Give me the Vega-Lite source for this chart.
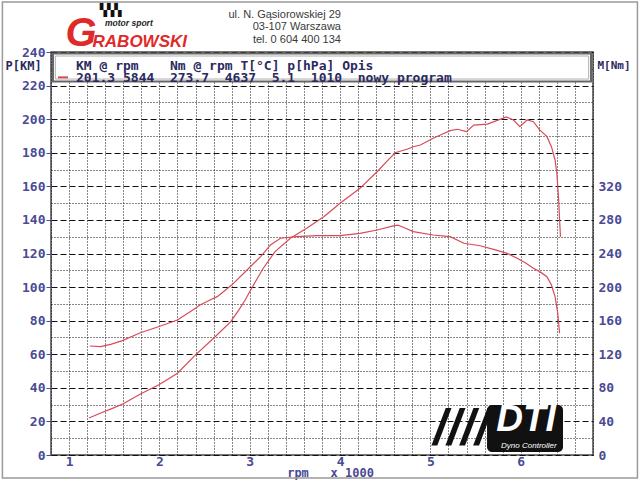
{
  "$schema": "https://vega.github.io/schema/vega-lite/v6.json",
  "width": 542,
  "height": 403,
  "autosize": {"type": "none"},
  "padding": {"left": 51, "top": 52, "right": 47, "bottom": 26},
  "background": "white",
  "config": {"view": {"stroke": "#4a4a4a", "strokeWidth": 1.5}, "font": "DejaVu Sans Mono"},
  "datasets": {
    "power": [{"rpm":1.22,"km":22},{"rpm":1.35,"km":25},{"rpm":1.48,"km":27.8},{"rpm":1.6,"km":30.5},{"rpm":1.79,"km":36.3},{"rpm":1.99,"km":41.7},{"rpm":2.2,"km":48.7},{"rpm":2.4,"km":59.6},{"rpm":2.6,"km":69.5},{"rpm":2.79,"km":79.4},{"rpm":2.88,"km":86.4},{"rpm":2.95,"km":92.3},{"rpm":3.01,"km":98.3},{"rpm":3.15,"km":111.2},{"rpm":3.28,"km":121.1},{"rpm":3.45,"km":129.1},{"rpm":3.63,"km":135},{"rpm":3.82,"km":141.9},{"rpm":4.0,"km":149.9},{"rpm":4.22,"km":158.8},{"rpm":4.41,"km":168.7},{"rpm":4.52,"km":175},{"rpm":4.61,"km":180},{"rpm":4.74,"km":182.1},{"rpm":4.81,"km":183.6},{"rpm":4.89,"km":184.6},{"rpm":5.03,"km":188.6},{"rpm":5.13,"km":191},{"rpm":5.22,"km":193.2},{"rpm":5.3,"km":194},{"rpm":5.4,"km":192.6},{"rpm":5.48,"km":196.5},{"rpm":5.63,"km":197.1},{"rpm":5.77,"km":199.9},{"rpm":5.84,"km":201.3},{"rpm":5.92,"km":199.5},{"rpm":5.99,"km":195.5},{"rpm":6.07,"km":199.5},{"rpm":6.14,"km":198.5},{"rpm":6.21,"km":193.6},{"rpm":6.29,"km":189.6},{"rpm":6.34,"km":183.6},{"rpm":6.38,"km":175.7},{"rpm":6.4,"km":167.8},{"rpm":6.42,"km":151.9},{"rpm":6.43,"km":140},{"rpm":6.44,"km":130}],
    "torque": [{"rpm":1.23,"nm":129.8},{"rpm":1.35,"nm":129},{"rpm":1.47,"nm":132},{"rpm":1.59,"nm":136.2},{"rpm":1.79,"nm":145.6},{"rpm":1.99,"nm":152.8},{"rpm":2.2,"nm":160.8},{"rpm":2.4,"nm":174.8},{"rpm":2.45,"nm":178.6},{"rpm":2.56,"nm":184.6},{"rpm":2.64,"nm":188.6},{"rpm":2.8,"nm":202.4},{"rpm":2.97,"nm":220.4},{"rpm":3.12,"nm":236.2},{"rpm":3.23,"nm":250.2},{"rpm":3.34,"nm":258.2},{"rpm":3.52,"nm":260},{"rpm":3.74,"nm":261.2},{"rpm":4.0,"nm":261.2},{"rpm":4.22,"nm":264},{"rpm":4.41,"nm":268},{"rpm":4.59,"nm":272.8},{"rpm":4.64,"nm":273.7},{"rpm":4.7,"nm":271.2},{"rpm":4.81,"nm":266},{"rpm":5.03,"nm":262},{"rpm":5.22,"nm":260},{"rpm":5.37,"nm":252.2},{"rpm":5.55,"nm":249.2},{"rpm":5.7,"nm":245},{"rpm":5.85,"nm":240.2},{"rpm":5.96,"nm":234.4},{"rpm":6.05,"nm":229},{"rpm":6.14,"nm":222.4},{"rpm":6.21,"nm":218.4},{"rpm":6.29,"nm":212.4},{"rpm":6.34,"nm":202.4},{"rpm":6.38,"nm":188.6},{"rpm":6.41,"nm":168.8},{"rpm":6.43,"nm":145}]
  },
  "layer": [
    {
      "layer": [
        {
          "data": {"name": "power"},
          "mark": {"type": "line", "color": "#d84a58", "strokeWidth": 1.2},
          "encoding": {
            "x": {
              "field": "rpm", "type": "quantitative",
              "scale": {"domain": [0.8, 6.8], "nice": false, "zero": false},
              "axis": {
                "values": [0.8,1,1.2,1.4,1.6,1.8,2,2.2,2.4,2.6,2.8,3,3.2,3.4,3.6,3.8,4,4.2,4.4,4.6,4.8,5,5.2,5.4,5.6,5.8,6,6.2,6.4,6.6,6.8],
                "tickCount": 100,
                "labelExpr": "abs(datum.value - round(datum.value)) < 0.001 ? format(datum.value, 'd') : ''",
                "labelOverlap": false, "labelFlush": false,
                "grid": true, "gridColor": "#111111", "gridDash": [1, 2], "gridWidth": 1,
                "ticks": false, "tickSize": 0, "domain": false,
                "labelFont": "DejaVu Sans Mono", "labelFontWeight": "bold", "labelFontSize": 13, "labelColor": "#4a4a95", "labelPadding": 0,
                "title": "rpm\u00a0\u00a0\u00a0x\u00a01000", "titleX": 279, "titleY": 17, "titleAlign": "center", "titleBaseline": "middle",
                "titleFont": "DejaVu Sans Mono", "titleFontWeight": "bold", "titleFontSize": 12, "titleColor": "#4a4a95"
              }
            },
            "y": {
              "field": "km", "type": "quantitative",
              "scale": {"domain": [0, 240], "nice": false, "zero": false},
              "axis": {
                "values": [0,10,20,30,40,50,60,70,80,90,100,110,120,130,140,150,160,170,180,190,200,210,220,230,240],
                "tickCount": 100,
                "labelExpr": "datum.value % 20 === 0 ? format(datum.value, 'd') : ''",
                "labelOverlap": false, "labelFlush": false,
                "grid": true, "gridColor": "#111111", "gridWidth": 1,
                "gridDash": {"condition": {"test": "datum.value % 20 === 0", "value": [6, 3]}, "value": [1, 2]},
                "ticks": true, "tickSize": 5, "tickColor": "#4a4a95",
                "tickOpacity": {"condition": {"test": "datum.value % 20 === 0", "value": 1}, "value": 0},
                "domain": false,
                "labelFont": "DejaVu Sans Mono", "labelFontWeight": "bold", "labelFontSize": 13, "labelColor": "#4a4a95", "labelPadding": 1,
                "title": "P[KM]", "titleAngle": 0, "titleX": -46, "titleY": 13, "titleAlign": "left", "titleBaseline": "middle",
                "titleFont": "DejaVu Sans Mono", "titleFontWeight": "bold", "titleFontSize": 12, "titleColor": "#2a2a60"
              }
            }
          }
        },
        {
          "data": {"values": [{}]},
          "mark": {"type": "rect", "fill": "white", "stroke": "#666666", "strokeWidth": 2},
          "encoding": {
            "x": {"datum": 0.822, "type": "quantitative"},
            "x2": {"datum": 6.778},
            "y": {"datum": 239.1, "type": "quantitative"},
            "y2": {"datum": 222.4}
          }
        },
        {
          "data": {"values": [{}]},
          "mark": {"type": "rect", "fill": "white", "stroke": "#b0b0b0", "strokeWidth": 1},
          "encoding": {
            "x": {"datum": 0.848, "type": "quantitative"},
            "x2": {"datum": 6.752},
            "y": {"datum": 237.6, "type": "quantitative"},
            "y2": {"datum": 223.9}
          }
        },
        {
          "data": {"values": [{}]},
          "mark": {"type": "rule", "color": "#d84a58", "strokeWidth": 2},
          "encoding": {
            "x": {"datum": 0.877, "type": "quantitative"},
            "x2": {"datum": 0.988},
            "y": {"datum": 224.9, "type": "quantitative"}
          }
        },
        {
          "data": {"values": [{}]},
          "mark": {"type": "text", "align": "left", "baseline": "middle", "font": "DejaVu Sans Mono", "fontWeight": "bold", "fontSize": 13, "color": "#2a2a60",
            "text": "\u00a0\u00a0KM\u00a0@\u00a0rpm\u00a0\u00a0\u00a0\u00a0Nm\u00a0@\u00a0rpm\u00a0T[°C]\u00a0p[hPa]\u00a0Opis"},
          "encoding": {
            "x": {"datum": 1.077, "type": "quantitative"},
            "y": {"datum": 231.8, "type": "quantitative"}
          }
        },
        {
          "data": {"values": [{}]},
          "mark": {"type": "text", "align": "left", "baseline": "middle", "font": "DejaVu Sans Mono", "fontWeight": "bold", "fontSize": 13, "color": "#2a2a60",
            "text": "201.3\u00a05844\u00a0\u00a0273.7\u00a0\u00a04637\u00a0\u00a05.1\u00a0\u00a01010\u00a0\u00a0nowy\u00a0program"},
          "encoding": {
            "x": {"datum": 1.077, "type": "quantitative"},
            "y": {"datum": 224.8, "type": "quantitative"}
          }
        },
        {
          "data": {"values": [{}]},
          "mark": {"type": "text", "align": "right", "baseline": "middle", "font": "Liberation Sans", "fontSize": 11, "color": "#3a3a3a", "lineHeight": 12.3,
            "text": ["ul. N. Gąsiorowskiej 29", "03-107 Warszawa", "tel. 0 604 400 134"]},
          "encoding": {
            "x": {"datum": 4.01, "type": "quantitative"},
            "y": {"datum": 262.0, "type": "quantitative"}
          }
        },
        {
          "data": {"values": [{}]},
          "mark": {"type": "text", "align": "center", "baseline": "middle", "font": "Liberation Sans", "fontWeight": "bold", "fontStyle": "italic", "fontSize": 40, "color": "#e02a2a", "text": "G"},
          "encoding": {
            "x": {"datum": 1.132, "type": "quantitative"},
            "y": {"datum": 250.7, "type": "quantitative"}
          }
        },
        {
          "data": {"values": [{}]},
          "mark": {"type": "text", "align": "left", "baseline": "middle", "font": "Liberation Sans", "fontWeight": "bold", "fontStyle": "italic", "fontSize": 17, "color": "#e02a2a", "text": "RABOWSKI"},
          "encoding": {
            "x": {"datum": 1.26, "type": "quantitative"},
            "y": {"datum": 245.9, "type": "quantitative"}
          }
        },
        {
          "data": {"values": [{}]},
          "mark": {"type": "text", "align": "left", "baseline": "middle", "font": "Liberation Sans", "fontWeight": "bold", "fontStyle": "italic", "fontSize": 8.5, "color": "#222222", "text": "motor sport"},
          "encoding": {
            "x": {"datum": 1.398, "type": "quantitative"},
            "y": {"datum": 257.3, "type": "quantitative"}
          }
        },
        {
          "data": {"values": [{}]},
          "mark": {"type": "text", "align": "left", "baseline": "middle", "font": "DejaVu Sans Mono", "fontSize": 12, "color": "#111111", "text": "▚▚▚"},
          "encoding": {
            "x": {"datum": 1.34, "type": "quantitative"},
            "y": {"datum": 264.8, "type": "quantitative"}
          }
        },
        {
          "data": {"values": [{}]},
          "mark": {"type": "text", "align": "center", "baseline": "middle", "font": "Liberation Sans", "fontWeight": "bold", "fontStyle": "italic", "fontSize": 50, "color": "#111111", "text": "////"},
          "encoding": {
            "x": {"datum": 5.34, "type": "quantitative"},
            "y": {"datum": 15.5, "type": "quantitative"}
          }
        },
        {
          "data": {"values": [{}]},
          "mark": {"type": "rect", "fill": "#111111", "cornerRadius": 5},
          "encoding": {
            "x": {"datum": 5.627, "type": "quantitative"},
            "x2": {"datum": 6.468},
            "y": {"datum": 29.8, "type": "quantitative"},
            "y2": {"datum": 1.8}
          }
        },
        {
          "data": {"values": [{}]},
          "mark": {"type": "text", "align": "center", "baseline": "middle", "font": "Liberation Sans", "fontWeight": "bold", "fontStyle": "italic", "fontSize": 37, "color": "white", "text": "DTI"},
          "encoding": {
            "x": {"datum": 6.058, "type": "quantitative"},
            "y": {"datum": 20.8, "type": "quantitative"}
          }
        },
        {
          "data": {"values": [{}]},
          "mark": {"type": "text", "align": "center", "baseline": "middle", "font": "Liberation Sans", "fontStyle": "italic", "fontSize": 8, "color": "white", "text": "Dyno Controller"},
          "encoding": {
            "x": {"datum": 6.09, "type": "quantitative"},
            "y": {"datum": 5.2, "type": "quantitative"}
          }
        },
        {
          "data": {"values": [{}]},
          "mark": {"type": "rect", "fill": null, "fillOpacity": 0, "stroke": "#9a9a9a", "strokeWidth": 1.5},
          "encoding": {
            "x": {"datum": 0.262, "type": "quantitative"},
            "x2": {"datum": 7.292},
            "y": {"datum": 269.8, "type": "quantitative"},
            "y2": {"datum": -13.7}
          }
        }
      ]
    },
    {
      "data": {"name": "torque"},
      "mark": {"type": "line", "color": "#d84a58", "strokeWidth": 1.2},
      "encoding": {
        "x": {"field": "rpm", "type": "quantitative", "scale": {"domain": [0.8, 6.8], "nice": false, "zero": false}},
        "y": {
          "field": "nm", "type": "quantitative",
          "scale": {"domain": [0, 480], "nice": false, "zero": false},
          "axis": {
            "orient": "right",
            "values": [0,40,80,120,160,200,240,280,320],
            "tickCount": 100,
            "format": "d",
            "grid": false, "ticks": false, "tickSize": 0, "domain": false,
            "labelOverlap": false, "labelFlush": false,
            "labelFont": "DejaVu Sans Mono", "labelFontWeight": "bold", "labelFontSize": 13, "labelColor": "#4a4a95", "labelPadding": 5,
            "title": "M[Nm]", "titleAngle": 0, "titleX": 4, "titleY": 13, "titleAlign": "left", "titleBaseline": "middle",
            "titleFont": "DejaVu Sans Mono", "titleFontWeight": "bold", "titleFontSize": 11, "titleColor": "#2a2a60"
          }
        }
      }
    }
  ],
  "resolve": {"scale": {"y": "independent"}}
}
